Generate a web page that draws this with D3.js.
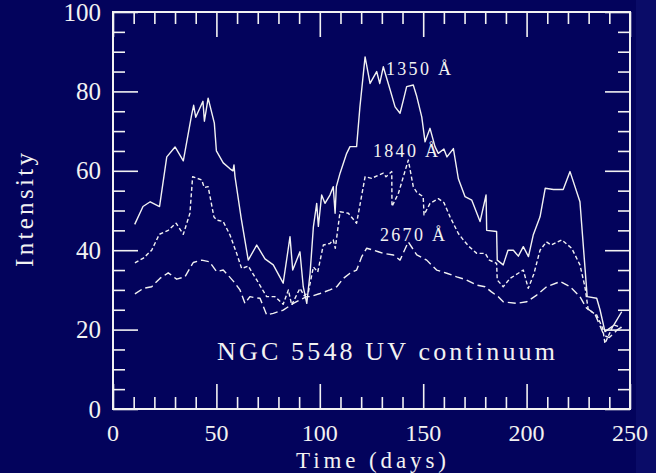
<!DOCTYPE html>
<html><head><meta charset="utf-8">
<script src="https://cdn.jsdelivr.net/npm/d3@7"></script>
<style>
html,body{margin:0;padding:0;background:#03035c;}
svg{display:block;}
</style></head>
<body>
<svg id="c" width="656" height="473"></svg>
<script>
// Data (day, intensity)
const uv1350 = [[10.5,46.5],[14.5,51],[18,52.2],[22.5,51],[26,63.5],[30,66],[34,62.5],[38,74],[39,76.5],[40,73.5],[43.5,77.5],[44.2,72.5],[46,78.3],[49,72],[50,65],[53.3,62],[56.6,60.5],[58,60],[58.5,61.5],[59,58.5],[62,48],[65.4,37.5],[69.5,41.3],[73.5,37.8],[77.5,36.3],[82.3,31.7],[85.6,43.4],[86.9,35],[90.4,39.6],[92,30.8],[93.7,26.6],[95.3,34.2],[96.9,45.9],[98.5,51.8],[99.3,46],[100.9,53.9],[102.5,51.8],[104.9,53.9],[106.5,56],[107.4,49.3],[108,56],[109.8,59.4],[113,64.4],[114.6,66.1],[117.8,66.1],[119.4,76.1],[121.9,88.7],[124.3,82],[127.5,85],[129,82],[130.7,86.2],[134,80.4],[136.4,76.1],[138.8,74.5],[140.4,77.8],[142,81.2],[145.2,81.6],[146.9,78.7],[149.3,73.6],[150.9,67.3],[153.3,70.7],[155.7,66.1],[157.3,64.4],[160,65.5],[161.5,63.5],[164.6,65.6],[167,58],[170.2,53.5],[173.5,52.6],[177.5,47.2],[180.4,53.9],[180.7,45],[185.5,44.7],[185.8,37.5],[188.7,36.3],[191,40],[193.6,40],[196,38.5],[198.4,40.9],[200.9,38.4],[203.2,43.8],[206.5,48.4],[209,55.6],[213,55.3],[217.7,55.3],[221,59.8],[225.8,52.2],[229.3,28.3],[233.9,27.9],[235.5,25],[237.9,19.5],[242,21],[246,24.5]];
const uv1840 = [[10.6,36.8],[14.7,38],[18.7,40],[22.4,44],[26.7,45],[30.5,46.8],[34,44],[37.2,49.3],[38.5,58.5],[42.9,57.7],[44.1,55.8],[46,56],[48.8,48.4],[50.1,47.6],[53.3,47.2],[56.6,43.8],[59.8,39.2],[62.2,35.4],[65.4,36],[69.5,32.5],[74.3,28.3],[78.3,28.3],[82.3,26.4],[84.8,30],[86.4,26.2],[90.4,30.4],[92.5,28.5],[94.5,29.5],[96.9,35.8],[99,34.5],[101.7,41.3],[104.9,41.7],[106.5,42.6],[107.5,40.5],[109.8,49.7],[113.8,49.3],[117.8,46.8],[121.9,58.5],[125.1,58.1],[128.3,58.9],[130.7,59.4],[132,58.5],[134.8,59.8],[134.9,51],[138,54.3],[142.8,62.7],[145.2,56],[147,54.5],[150,53.5],[150.4,48.9],[153.3,51.8],[157.3,53],[160,52],[163,48.4],[167,44.2],[169.4,42.6],[172,41],[175.9,39.2],[180,39.2],[182,37.5],[185.5,36.7],[185.8,32.5],[188.7,30.8],[192,32.9],[196,34.2],[198.4,35],[200.8,30.4],[203.5,34],[206.5,40],[209.6,42.1],[211.9,41.3],[217,42.6],[221.8,40.5],[225.8,36.3],[228.2,30.8],[229.8,25],[233.9,23.7],[236.8,20.3],[237.9,16.5],[242,21.2],[246,20.5]];
const uv2670 = [[10.6,29],[14.7,30.4],[18.7,30.8],[22.7,32.9],[26.7,34.3],[30.8,32.7],[34.8,33.3],[38.8,36.9],[42.9,37.5],[46.6,37.1],[50.1,34.6],[53.3,35],[56,33.5],[59,31.7],[61.4,30],[63.8,26.6],[66.2,28.3],[69,28],[71.1,27.9],[74.3,23.7],[77.5,24.1],[82.3,24.9],[87.2,26.6],[90.4,27.5],[93.7,28.3],[95.3,28.3],[100.1,29.1],[104.9,30],[108.2,30.8],[111.4,32.9],[114.6,34.2],[117.8,35],[120.3,38.4],[122.7,40.5],[125.9,40],[128.3,39.6],[130.7,39.2],[135.6,38.8],[138.8,37.5],[142.8,42.1],[146.9,38.8],[151.7,37.5],[156.5,35],[161.4,34.2],[166.2,33.3],[171,32.5],[175.9,31.2],[179.9,30.8],[183,29.5],[186.3,28.3],[188.7,27],[195.2,26.6],[200,27],[204.9,28.7],[209.7,30.8],[216.2,32.1],[221,30.8],[225.8,28.3],[229,25.4],[233,24],[237.5,18.5],[240,18],[244,20],[247,21]];
const seriesNames = ["1350 Å","1840 Å","2670 Å"];
const xTicks = [0,50,100,150,200,250];
const yTicks = [0,20,40,60,80,100];
const titleText = "NGC 5548 UV continuum";
const xLabel = "Time (days)";
const yLabel = "Intensity";

const svg = d3.select("#c");
const L=113,R=630,T=12,B=409;
const x = d3.scaleLinear().domain([0,250]).range([L,R]);
const y = d3.scaleLinear().domain([0,100]).range([B,T]);
const font = "'Liberation Serif','DejaVu Serif',serif";
const fg = "#f2f2f2";

svg.append("rect").attr("x",0).attr("y",0).attr("width",656).attr("height",473).attr("fill","#03035c");
svg.append("rect").attr("x",636).attr("y",0).attr("width",20).attr("height",473).attr("fill","#0a0c68");

// axes with inward ticks
const xMinor = d3.range(0,251,10).filter(v=>v%50!==0);
const yMinor = d3.range(0,101,5).filter(v=>v%20!==0);
function styleAxis(g){
  g.select(".domain").remove();
  g.selectAll("line").attr("stroke",fg).attr("stroke-width",1.6);
  g.selectAll("text").remove();
}
[[d3.axisBottom,B,xTicks,25],[d3.axisBottom,B,xMinor,12],[d3.axisTop,T,xTicks,25],[d3.axisTop,T,xMinor,12]].forEach(([f,pos,vals,len])=>{
  svg.append("g").attr("transform",`translate(0,${pos})`)
    .call(f(x).tickValues(vals).tickSize(-len).tickFormat("")).call(styleAxis);
});
[[d3.axisLeft,L,yTicks,25],[d3.axisLeft,L,yMinor,12],[d3.axisRight,R,yTicks,25],[d3.axisRight,R,yMinor,12]].forEach(([f,pos,vals,len])=>{
  svg.append("g").attr("transform",`translate(${pos},0)`)
    .call(f(y).tickValues(vals).tickSize(-len).tickFormat("")).call(styleAxis);
});
svg.append("rect").attr("x",L).attr("y",T).attr("width",R-L).attr("height",B-T)
  .attr("fill","none").attr("stroke",fg).attr("stroke-width",2);

// tick labels
svg.append("g").selectAll("text").data(xTicks).join("text")
  .attr("x",d=>x(d)).attr("y",441).attr("text-anchor","middle")
  .attr("font-family",font).attr("font-size",24).attr("fill",fg).text(d=>d);
svg.append("g").selectAll("text").data(yTicks).join("text")
  .attr("x",101).attr("y",d=>y(d)+8.5).attr("text-anchor","end")
  .attr("font-family",font).attr("font-size",25).attr("fill",fg).text(d=>d);

svg.append("text").attr("x",371).attr("y",468).attr("text-anchor","middle")
  .attr("font-family",font).attr("font-size",23).attr("fill",fg)
  .attr("textLength",150).attr("lengthAdjust","spacing").text(xLabel);
svg.append("text").attr("transform","translate(33,210) rotate(-90)").attr("text-anchor","middle")
  .attr("font-family",font).attr("font-size",25).attr("fill",fg)
  .attr("textLength",114).attr("lengthAdjust","spacing").text(yLabel);

// curves
const line = d3.line().x(d=>x(d[0])).y(d=>y(d[1]));
const dashes = [null,"4,2.5","8,4"];
[uv1350,uv1840,uv2670].forEach((s,i)=>{
  svg.append("path").datum(s).attr("d",line).attr("fill","none")
    .attr("stroke",fg).attr("stroke-width",1.4).attr("stroke-linejoin","round")
    .attr("stroke-dasharray",dashes[i]);
});

// series labels
const labPos = [[386,75,65],[373,157,65],[380,241,65]];
seriesNames.forEach((n,i)=>{
  svg.append("text").attr("x",labPos[i][0]).attr("y",labPos[i][1])
    .attr("font-family",font).attr("font-size",18).attr("fill",fg)
    .attr("textLength",labPos[i][2]).attr("lengthAdjust","spacing").text(n);
});

svg.append("text").attr("x",217).attr("y",360)
  .attr("font-family",font).attr("font-size",26).attr("fill",fg)
  .attr("textLength",338).attr("lengthAdjust","spacing").text(titleText);
</script>
</body></html>
